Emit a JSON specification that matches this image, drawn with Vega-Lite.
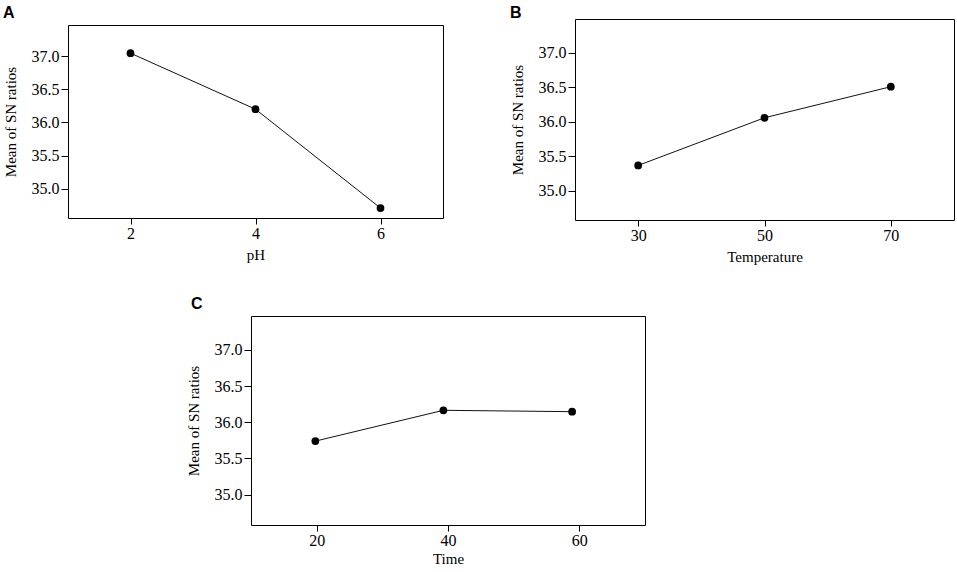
{
  "$schema": "https://vega.github.io/schema/vega-lite/v6.json",
  "background": "white",
  "padding": {"left": 2, "top": 3, "right": 0, "bottom": 0},
  "spacing": 30,
  "vconcat": [
    {
      "spacing": 65,
      "hconcat": [
        {
          "spacing": 0,
          "vconcat": [
            {"width": 1, "height": 1, "data": {"values": []}, "mark": "point", "view": {"stroke": null}},
            {
              "title": {"text": "A", "offset": 4},
              "width": 375,
              "height": 193,
              "data": {"values": [
                {"pH": 2, "SN": 37.045},
                {"pH": 4, "SN": 36.2},
                {"pH": 6, "SN": 34.71}
              ]},
              "encoding": {
                "x": {"field": "pH", "type": "quantitative",
                      "scale": {"domain": [1, 7], "nice": false, "zero": false},
                      "axis": {"values": [2, 4, 6], "title": "pH", "titlePadding": 6}},
                "y": {"field": "SN", "type": "quantitative",
                      "scale": {"domain": [34.56, 37.47], "nice": false, "zero": false},
                      "axis": {"values": [35, 35.5, 36, 36.5, 37], "format": ".1f", "title": "Mean of SN ratios"}}
              },
              "layer": [
                {"mark": {"type": "line", "color": "#111", "strokeWidth": 1}},
                {"mark": {"type": "point", "filled": true, "color": "black", "opacity": 1, "size": 60}}
              ]
            }
          ]
        },
        {
          "spacing": 0,
          "vconcat": [
            {"width": 1, "height": 1, "data": {"values": []}, "mark": "point", "view": {"stroke": null}},
            {
              "title": {"text": "B", "offset": -2},
              "width": 379,
              "height": 201,
              "data": {"values": [
                {"Temperature": 30, "SN": 35.37},
                {"Temperature": 50, "SN": 36.06},
                {"Temperature": 70, "SN": 36.51}
              ]},
              "encoding": {
                "x": {"field": "Temperature", "type": "quantitative",
                      "scale": {"domain": [20, 80], "nice": false, "zero": false},
                      "axis": {"values": [30, 50, 70], "title": "Temperature", "titlePadding": 6}},
                "y": {"field": "SN", "type": "quantitative",
                      "scale": {"domain": [34.58, 37.49], "nice": false, "zero": false},
                      "axis": {"values": [35, 35.5, 36, 36.5, 37], "format": ".1f", "title": "Mean of SN ratios"}}
              },
              "layer": [
                {"mark": {"type": "line", "color": "#111", "strokeWidth": 1}},
                {"mark": {"type": "point", "filled": true, "color": "black", "opacity": 1, "size": 60}}
              ]
            }
          ]
        }
      ]
    },
    {
      "spacing": 0,
      "hconcat": [
        {"width": 117, "height": 1, "data": {"values": []}, "mark": "point", "view": {"stroke": null}},
        {
          "title": {"text": "C", "offset": 4, "dx": 5},
          "width": 394,
          "height": 209,
          "data": {"values": [
            {"Time": 19.8, "SN": 35.74},
            {"Time": 39.3, "SN": 36.166},
            {"Time": 58.9, "SN": 36.147}
          ]},
          "encoding": {
            "x": {"field": "Time", "type": "quantitative",
                  "scale": {"domain": [10, 70], "nice": false, "zero": false},
                  "axis": {"values": [20, 40, 60], "title": "Time", "titlePadding": 3}},
            "y": {"field": "SN", "type": "quantitative",
                  "scale": {"domain": [34.58, 37.47], "nice": false, "zero": false},
                  "axis": {"values": [35, 35.5, 36, 36.5, 37], "format": ".1f", "title": "Mean of SN ratios"}}
          },
          "layer": [
            {"mark": {"type": "line", "color": "#111", "strokeWidth": 1}},
            {"mark": {"type": "point", "filled": true, "color": "black", "opacity": 1, "size": 60}}
          ]
        }
      ]
    }
  ],
  "config": {
    "view": {"stroke": "black", "strokeWidth": 1},
    "axis": {
      "labelFont": "Liberation Serif",
      "titleFont": "Liberation Serif",
      "labelFontSize": 16,
      "titleFontSize": 15,
      "titleFontWeight": "normal",
      "labelColor": "black",
      "titleColor": "black",
      "tickColor": "black",
      "domain": false,
      "grid": false
    },
    "axisX": {"labelFont": "Liberation Serif", "labelFontSize": 16, "tickSize": 6, "labelPadding": 1},
    "axisY": {"labelFont": "Liberation Serif", "labelFontSize": 16, "tickSize": 7, "labelPadding": 2, "titlePadding": 13},
    "title": {
      "font": "Liberation Sans",
      "fontSize": 16,
      "fontWeight": "bold",
      "anchor": "start",
      "frame": "bounds",
      "color": "black"
    }
  }
}
